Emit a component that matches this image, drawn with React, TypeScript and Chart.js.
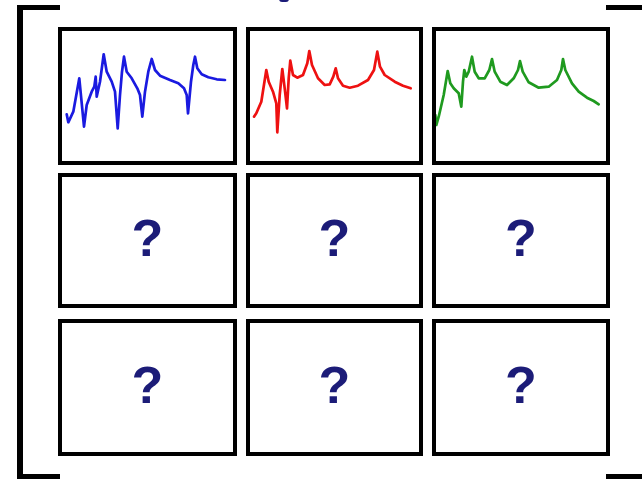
import React, { useEffect, useRef } from "react";
import { Chart, registerables } from "chart.js";

Chart.register(...registerables);

// Frequency (relative units) and amplitude (relative units)
const blueFreq = [8.7, 10.3, 15.3, 21.3, 26, 28.7, 33.7, 36.3, 37.7, 38.7, 42, 45.7, 48.7, 53.7, 57, 59.7, 62, 64, 66, 68.7, 73.7, 79.3, 82, 84.3, 87, 90.3, 93.7, 97, 102, 112, 120.3, 126, 128.7, 130, 133, 135.3, 137, 139.3, 143.7, 150.3, 158.7, 167];
const blueAmp = [50.7, 42.7, 53.3, 86.7, 38.3, 60, 73.3, 78.3, 88.3, 68.3, 83.3, 110.7, 93.3, 83.3, 73.3, 36.7, 70, 93.3, 108.3, 93.3, 86.7, 76.7, 70, 48.3, 73.3, 93.3, 106, 95, 89.3, 85, 81.7, 76.7, 70, 51.7, 83.3, 100, 108.3, 96.7, 90.7, 87.7, 85.7, 85];

const redFreq = [8, 10.3, 15.3, 20.3, 22.7, 27, 30.3, 31.3, 33.7, 36.3, 38.7, 41, 42.7, 44.3, 47, 51.3, 57, 61.3, 63.3, 66, 72, 78.7, 83.7, 87.3, 89.7, 92, 97, 103.7, 112, 122, 128, 131.3, 134, 138.7, 148.7, 157, 164.7];
const redAmp = [48.3, 51.7, 63.3, 95, 83.3, 73.3, 61.7, 32.7, 70, 96, 76.7, 56.7, 86.7, 104.3, 90, 87.3, 90, 101.7, 114, 100, 86.7, 80, 80.7, 88.3, 96.7, 86.7, 79.3, 77.3, 79.3, 85, 95, 113.3, 98.3, 90, 83.3, 79.3, 76.7];

const greenFreq = [3.3, 4.3, 6.7, 11.7, 15.7, 18.3, 21.7, 26.7, 29.3, 31, 32.3, 34.3, 36.7, 40, 42.7, 46.7, 52.7, 57.3, 60, 62.7, 68.3, 75, 81.7, 86, 88, 90.7, 96.7, 106.7, 116.7, 125, 129.3, 131, 133.3, 140, 146.7, 155, 161.7, 166.7];
const greenAmp = [50, 40, 48.3, 70, 94, 81.7, 76.7, 71.7, 58.3, 83.3, 95, 88.3, 93.3, 108.3, 93.3, 86.7, 86.7, 95, 106, 93.3, 83.3, 80, 86.7, 95, 104, 93.3, 82.7, 77.3, 78.3, 85, 95, 106, 95, 81.7, 73.3, 67.3, 64, 60.7];

const questionMark = "?";

type Cell = { left: number; top: number; w: number; h: number };

const colLefts = [58, 246, 432];
const colWidths = [179, 177, 178];
const rowTops = [27, 173, 319];
const rowHeights = [138, 135, 137];

function cellAt(r: number, c: number): Cell {
  return { left: colLefts[c], top: rowTops[r], w: colWidths[c], h: rowHeights[r] };
}

function MiniChart({ cell, xs, ys, color }: { cell: Cell; xs: number[]; ys: number[]; color: string }) {
  const ref = useRef<HTMLCanvasElement | null>(null);
  useEffect(() => {
    if (!ref.current) return;
    const chart = new Chart(ref.current, {
      type: "line",
      data: {
        datasets: [
          {
            data: xs.map((x, i) => ({ x, y: ys[i] })),
            borderColor: color,
            borderWidth: 2.7,
            pointRadius: 0,
            tension: 0,
            borderJoinStyle: "round",
            borderCapStyle: "round",
            fill: false,
          },
        ],
      },
      options: {
        responsive: false,
        animation: false,
        layout: { padding: 0 },
        plugins: { legend: { display: false }, tooltip: { enabled: false }, title: { display: false } },
        scales: {
          x: { type: "linear", min: 0, max: cell.w, display: false },
          y: { type: "linear", min: 0, max: cell.h, display: false },
        },
      },
    });
    return () => chart.destroy();
  }, []);
  return (
    <canvas
      ref={ref}
      width={cell.w}
      height={cell.h}
      style={{ position: "absolute", left: cell.left, top: cell.top, width: cell.w, height: cell.h }}
    />
  );
}

function Box({ cell }: { cell: Cell }) {
  return (
    <div
      style={{
        position: "absolute",
        left: cell.left,
        top: cell.top,
        width: cell.w,
        height: cell.h,
        border: "4px solid #000",
        boxSizing: "border-box",
        pointerEvents: "none",
      }}
    />
  );
}

function Question({ cell }: { cell: Cell }) {
  return (
    <div
      style={{
        position: "absolute",
        left: cell.left,
        top: cell.top,
        width: cell.w,
        height: cell.h,
        display: "flex",
        alignItems: "center",
        justifyContent: "center",
        fontFamily: "'Liberation Sans', Arial, sans-serif",
        fontWeight: "bold",
        fontSize: 52,
        color: "#1c1c78",
        lineHeight: 1,
        paddingBottom: 6,
        boxSizing: "border-box",
      }}
    >
      {questionMark}
    </div>
  );
}

export default function App() {
  const bar = (l: number, t: number, w: number, h: number) => (
    <div style={{ position: "absolute", left: l, top: t, width: w, height: h, background: "#000" }} />
  );
  const cells: React.ReactNode[] = [];
  for (let r = 1; r < 3; r++) {
    for (let c = 0; c < 3; c++) {
      cells.push(<Question key={`q${r}${c}`} cell={cellAt(r, c)} />);
    }
  }
  const boxes: React.ReactNode[] = [];
  for (let r = 0; r < 3; r++) {
    for (let c = 0; c < 3; c++) {
      boxes.push(<Box key={`b${r}${c}`} cell={cellAt(r, c)} />);
    }
  }
  return (
    <div
      style={{
        position: "fixed",
        left: 0,
        top: 0,
        width: 642,
        height: 479,
        background: "#fff",
        overflow: "hidden",
      }}
    >
      <MiniChart cell={cellAt(0, 0)} xs={blueFreq} ys={blueAmp} color="#1a1ae0" />
      <MiniChart cell={cellAt(0, 1)} xs={redFreq} ys={redAmp} color="#ee1111" />
      <MiniChart cell={cellAt(0, 2)} xs={greenFreq} ys={greenAmp} color="#1f9a1f" />
      {cells}
      {boxes}
      {/* left bracket */}
      {bar(17, 5, 6, 474)}
      {bar(17, 5, 43, 5)}
      {bar(17, 474, 43, 5)}
      {/* right bracket */}
      {bar(606, 5, 40, 5)}
      {bar(606, 474, 40, 5)}
      {/* partially visible title mark */}
      <div style={{ position: "absolute", left: 279, top: -4, width: 10, height: 6, borderRadius: 5, background: "#1c1c78" }} />
    </div>
  );
}
